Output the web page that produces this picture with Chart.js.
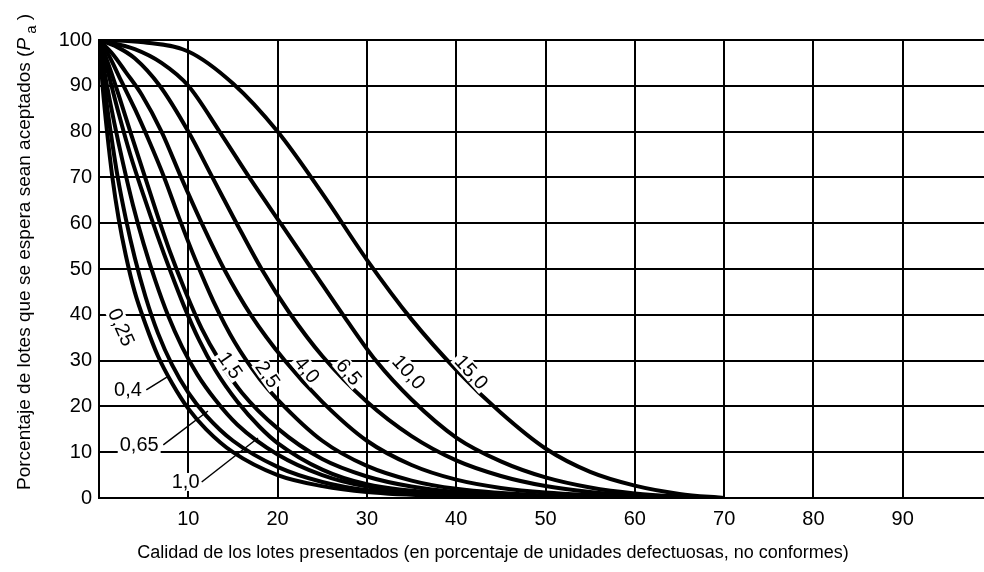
<!DOCTYPE html>
<html>
<head>
<meta charset="utf-8">
<script src="https://cdn.jsdelivr.net/npm/chart.js@4.4.1/dist/chart.umd.min.js"></script>
<style>
  html, body { margin: 0; padding: 0; background: #fff; }
  canvas { display: block; }
</style>
</head>
<body>
<canvas id="ocChart" width="984" height="572"></canvas>
<script>
// Curvas características (OC) por nivel de calidad aceptable
const aqlNames = ['0,25', '0,4', '0,65', '1,0', '1,5', '2,5', '4,0', '6,5', '10,0', '15,0'];

// puntos [calidad %, Pa %] de cada curva
const pa025 = [[0,100],[0.4,90],[0.9,80],[1.5,70],[2.2,61],[3,53],[4,45],[5.2,38],[6.6,31],[8.2,25],[10,19.5],[12,15],[15,10],[20,5],[25,2.6],[30,1.3],[40,0.3],[50,0.05],[70,0]];
const pa04 = [[0,100],[0.6,90],[1.3,80],[2.1,70],[3,61],[4,52.5],[5.2,44],[6.6,36],[8.2,29],[10,23],[12,18],[15,12.5],[20,6.8],[25,3.5],[30,1.7],[40,0.4],[50,0.1],[70,0]];
const pa065 = [[0,100],[0.8,91],[1.7,82],[2.7,73],[3.8,64],[5,55.5],[6.3,47.5],[7.7,40],[9.3,33],[11,27],[13,21.5],[15.5,16],[20,9.5],[25,5],[30,2.5],[40,0.6],[50,0.15],[70,0]];
const pa10 = [[0,100],[1,93],[2.2,84],[3.5,75],[5,66],[6.5,57.5],[8,49.5],[9.5,42],[11.2,34.5],[13,28],[15.5,21],[18,15.5],[20,12],[25,6.2],[30,3],[40,0.8],[50,0.2],[70,0]];
const pa15 = [[0,100],[1,95],[2.2,88],[3.5,80],[5,71],[6.5,62],[8,53.5],[9.7,45],[11.5,37],[13.5,30],[16,23],[20,15.2],[25,8.5],[30,4.7],[35,2.5],[40,1.3],[50,0.3],[70,0]];
const pa25 = [[0,100],[1,97],[2.5,91],[4,85],[5.6,78],[7.3,70],[9,61],[10.8,52],[12.8,43],[15.2,34],[18,26],[20,21.5],[25,12.5],[30,7],[35,3.8],[40,2],[50,0.5],[60,0.1],[70,0]];
const pa40 = [[0,100],[1.5,97],[3,93],[4.8,88],[7,80],[9.2,70],[11.5,60],[14,50],[17,40],[20.8,30],[25,21],[30,12.5],[35,7.2],[40,4],[45,2.2],[50,1.2],[60,0.3],[70,0]];
const pa65 = [[0,100],[2,98.5],[4,96],[6.8,90],[10,80],[12.7,70],[15.4,60],[18.2,50],[21.3,40.5],[25,31],[30,21],[35,13.5],[40,8.2],[45,4.8],[50,2.6],[55,1.3],[60,0.6],[70,0]];
const pa100 = [[0,100],[4,98],[7,95],[10,90],[13.5,80],[17,69.5],[20.5,59.5],[24,49.5],[27.5,39.5],[31,30],[35,21.5],[40,13.2],[45,8],[50,4.5],[55,2.3],[60,1],[65,0.35],[70,0]];
const pa150 = [[0,100],[5,99.5],[10,97.5],[15,90.5],[20,80],[25,66.5],[30,52],[35,39],[40,28],[45,18.6],[50,10.8],[55,5.7],[60,2.7],[65,0.9],[70,0]];

const xTicks = [10, 20, 30, 40, 50, 60, 70, 80, 90];
const yTicks = [0, 10, 20, 30, 40, 50, 60, 70, 80, 90, 100];

const xTitle = 'Calidad de los lotes presentados (en porcentaje de unidades defectuosas, no conformes)';
const yTitle = 'Porcentaje de lotes que se espera sean aceptados (';

// rótulos de las curvas: posición en unidades del gráfico, giro y línea guía
const curveTags = [
    { text: '0,25', x: 2.5, y: 37.3, angle: 66 },
    { text: '0,4', x: 3.25, y: 23.6, angle: 0, lead: [5.3, 23.6, 7.6, 26.4] },
    { text: '0,65', x: 4.5, y: 11.6, angle: 0, lead: [7.2, 11.6, 12.2, 19] },
    { text: '1,0', x: 9.7, y: 3.5, angle: 0, lead: [11.5, 3.5, 17.8, 13.1] },
    { text: '1,5', x: 14.7, y: 29, angle: 55 },
    { text: '2,5', x: 18.9, y: 27, angle: 55 },
    { text: '4,0', x: 23.3, y: 28, angle: 50 },
    { text: '6,5', x: 28, y: 27.5, angle: 50 },
    { text: '10,0', x: 34.7, y: 27.5, angle: 48 },
    { text: '15,0', x: 41.7, y: 27.5, angle: 48 }
];

const allCurves = [pa025, pa04, pa065, pa10, pa15, pa25, pa40, pa65, pa100, pa150];
const FONT = "'Liberation Sans', Arial, sans-serif";

function toPoints(arr) {
    return arr.map(function(p) { return { x: p[0], y: p[1] }; });
}

// dibuja los rótulos y sus líneas guía
const tagPlugin = {
    id: 'curveTags',
    afterDatasetsDraw(chart) {
        const ctx = chart.ctx;
        const xs = chart.scales.x, ys = chart.scales.y;
        ctx.save();
        ctx.font = '20px ' + FONT;
        ctx.textAlign = 'center';
        ctx.textBaseline = 'middle';
        curveTags.forEach(function(t) {
            const px = xs.getPixelForValue(t.x);
            const py = ys.getPixelForValue(t.y);
            const w = ctx.measureText(t.text).width;
            ctx.save();
            ctx.translate(px, py);
            ctx.rotate(t.angle * Math.PI / 180);
            ctx.fillStyle = '#fff';
            ctx.fillRect(-w / 2 - 2, -9, w + 4, 18);
            ctx.fillStyle = '#000';
            ctx.fillText(t.text, 0, 1);
            ctx.restore();
            if (t.lead) {
                ctx.strokeStyle = '#000';
                ctx.lineWidth = 1.5;
                ctx.beginPath();
                ctx.moveTo(xs.getPixelForValue(t.lead[0]), ys.getPixelForValue(t.lead[1]));
                ctx.lineTo(xs.getPixelForValue(t.lead[2]), ys.getPixelForValue(t.lead[3]));
                ctx.stroke();
            }
        });
        ctx.restore();
    }
};

// títulos de los ejes (la P en cursiva con subíndice a)
const titlePlugin = {
    id: 'axisTitles',
    afterDraw(chart) {
        const ctx = chart.ctx;
        ctx.save();
        ctx.fillStyle = '#000';
        ctx.font = '18px ' + FONT;
        ctx.textAlign = 'center';
        ctx.textBaseline = 'middle';
        ctx.fillText(xTitle, 493, 553);

        const parts = [
            { text: yTitle, font: '19px ' + FONT, dy: 0 },
            { text: 'P', font: 'italic 19px ' + FONT, dy: 0 },
            { text: ' a', font: '15px ' + FONT, dy: 6 },
            { text: ' )', font: '19px ' + FONT, dy: 0 }
        ];
        ctx.translate(30, 490);
        ctx.rotate(-Math.PI / 2);
        ctx.textBaseline = 'alphabetic';
        ctx.textAlign = 'left';
        let pos = 0;
        parts.forEach(function(p) {
            ctx.font = p.font;
            ctx.fillText(p.text, pos, p.dy);
            pos += ctx.measureText(p.text).width;
        });
        ctx.restore();
    }
};

let ctx = document.getElementById('ocChart').getContext('2d');
let ocChart = new Chart(ctx, {
    type: 'line',
    data: {
        datasets: allCurves.map(function(c, i) {
            return {
                label: aqlNames[i],
                data: toPoints(c),
                borderColor: '#000',
                borderWidth: 4,
                pointRadius: 0,
                fill: false,
                cubicInterpolationMode: 'monotone'
            };
        })
    },
    options: {
        responsive: false,
        animation: false,
        layout: { padding: { top: 40, right: 0, left: 0, bottom: 0 } },
        plugins: {
            legend: { display: false },
            tooltip: { enabled: false }
        },
        scales: {
            x: {
                type: 'linear',
                min: 0,
                max: 99.1,
                afterBuildTicks: function(scale) {
                    scale.ticks = [0].concat(xTicks).map(function(v) { return { value: v }; });
                },
                afterFit: function(scale) { scale.height = 74; },
                grid: { color: '#000', lineWidth: 2, drawTicks: false },
                border: { color: '#000', width: 2 },
                ticks: {
                    color: '#000',
                    font: { family: FONT, size: 20 },
                    padding: 9,
                    maxRotation: 0,
                    callback: function(v) { return v === 0 ? '' : v; }
                }
            },
            y: {
                min: 0,
                max: 100,
                afterBuildTicks: function(scale) {
                    scale.ticks = yTicks.map(function(v) { return { value: v }; });
                },
                afterFit: function(scale) { scale.width = 99; },
                grid: { color: '#000', lineWidth: 2, drawTicks: false },
                border: { color: '#000', width: 2 },
                ticks: {
                    color: '#000',
                    font: { family: FONT, size: 20 },
                    padding: 7
                }
            }
        }
    },
    plugins: [tagPlugin, titlePlugin]
});
</script>
</body>
</html>
